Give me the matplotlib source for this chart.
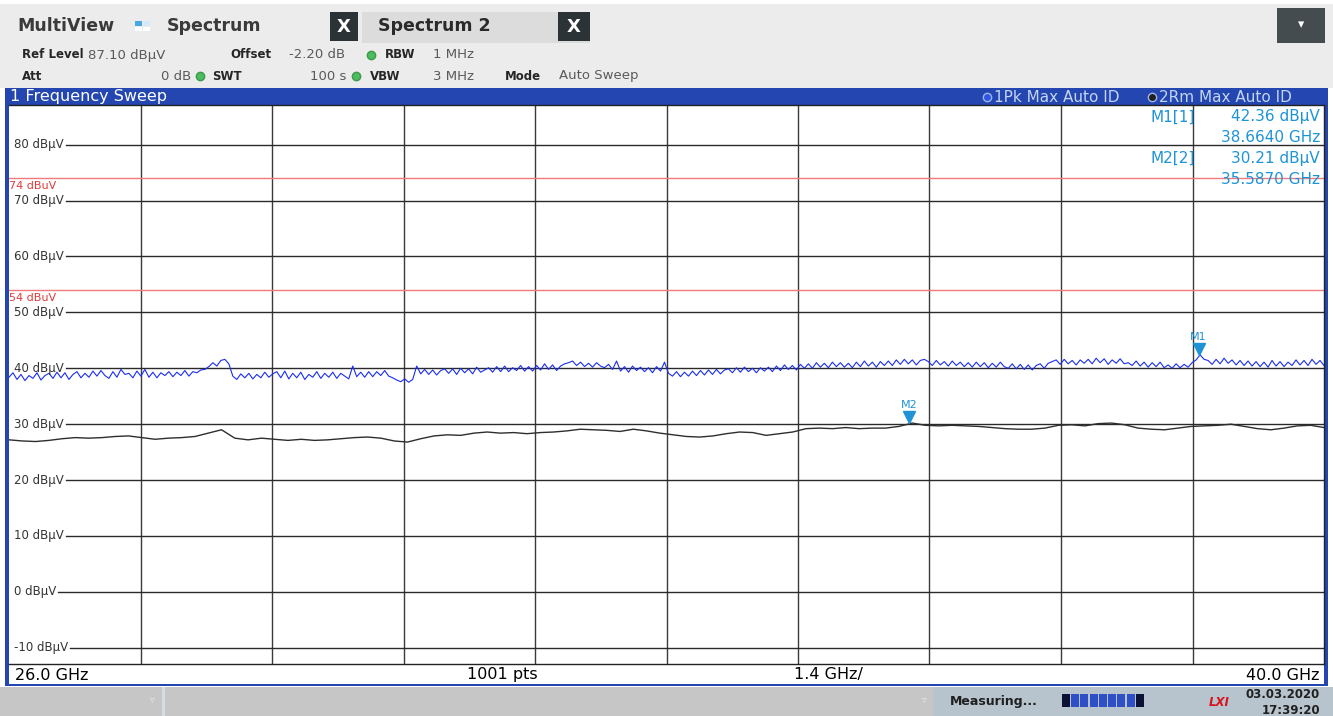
import numpy as np
import matplotlib.pyplot as plt
from matplotlib.patches import Rectangle
from matplotlib.lines import Line2D
from matplotlib.transforms import offset_copy

W, H = 1333, 716

# sweep setup
f_start = 26.0
f_stop = 40.0
f_step = 1.4
ref_level = 87.1
bottom_level = -12.9
y_ticks = [80, 70, 60, 50, 40, 30, 20, 10, 0, -10]
limit_lines = [74, 54]

# trace 1: Pk Max (blue)
trace1 = [
    38.4, 39.2, 38.0, 38.9, 37.8, 38.7, 38.2, 39.2, 37.9, 38.7,
    39.1, 38.2, 39.3, 38.3, 39.2, 38.0, 38.9, 39.4, 38.3, 39.1,
    38.4, 39.5, 38.6, 39.6, 38.7, 38.2, 39.4, 38.4, 39.8, 38.9,
    39.1, 38.3, 39.5, 38.6, 39.8, 38.4, 39.3, 38.3, 39.2, 38.7,
    39.4, 38.5, 39.3, 38.7, 39.6, 38.6, 39.4, 39.2, 39.7, 39.8,
    40.3, 41.0, 40.4, 41.4, 41.6, 40.8, 38.6, 38.0, 39.0, 38.3,
    39.1, 38.1, 38.9, 38.3, 39.3, 38.4, 39.0, 39.4, 38.3, 39.5,
    38.1, 39.1, 38.3, 39.3, 38.0, 38.9, 38.4, 39.4, 38.2, 39.1,
    38.4, 39.3, 38.2, 39.1, 38.6, 38.1, 40.4, 38.5, 39.3, 38.4,
    39.4, 38.5, 39.4, 38.7, 39.6, 38.6, 38.3, 37.9, 37.6, 38.1,
    37.5, 38.0, 40.4, 39.0, 39.8, 38.9, 39.7, 38.8, 39.6, 39.9,
    39.1, 39.9, 38.9, 40.0, 39.2, 39.9, 39.0, 40.2, 39.3, 39.7,
    40.1, 39.3, 40.3, 39.4, 40.4, 39.4, 40.1, 39.6, 40.5, 39.5,
    40.3, 39.5, 40.5, 39.7, 40.8, 39.8, 40.6, 39.6, 40.4, 40.8,
    41.0, 41.3, 40.5, 41.1, 40.3, 40.9, 40.2, 41.0, 40.4, 40.1,
    40.7, 39.8, 41.3, 39.5, 40.3, 39.3, 40.4, 39.6, 40.2, 39.4,
    40.1, 39.2, 40.3, 39.5, 41.1, 39.1, 38.6, 39.4, 38.5, 39.3,
    38.6, 39.5, 38.7, 39.6, 38.8, 39.7, 38.9, 39.8, 39.0, 39.7,
    39.9, 39.2, 40.1, 39.3, 40.2, 39.4, 40.0, 39.2, 40.1, 39.5,
    40.2, 39.4, 40.4, 39.6, 40.6, 39.8, 40.5, 39.7, 40.7, 40.0,
    40.8, 40.0, 41.0, 40.2, 40.9, 40.1, 41.1, 40.3, 41.0, 40.2,
    40.9, 40.1, 41.1, 40.3, 41.3, 40.4, 41.1, 40.2, 41.2, 40.5,
    41.3, 40.5, 41.5, 40.7, 41.6, 40.8, 41.5, 40.6, 41.4, 41.6,
    41.2, 40.5, 41.4, 40.6, 41.2, 40.4, 41.3, 40.5, 41.1, 40.3,
    41.0, 40.2, 41.1, 40.3, 41.0, 40.1, 40.9, 40.2, 41.1, 40.3,
    40.0, 40.8, 39.9, 40.7, 39.8, 40.6, 39.7, 40.5, 40.8, 40.0,
    40.9, 41.2, 41.5, 40.7, 41.6, 40.8, 41.4, 40.6, 41.5, 40.9,
    41.6, 40.8, 41.8, 41.0, 41.7, 40.7, 41.5, 40.9, 41.7, 40.8,
    41.0, 40.5, 41.3, 40.4, 41.1, 40.2, 41.0, 40.3, 41.1, 40.1,
    40.6, 40.0, 40.8, 40.1, 40.7, 40.2, 41.0, 41.5, 42.4, 41.6,
    41.4, 40.7, 41.6, 40.8, 41.8, 40.9, 41.5, 40.6, 41.4, 40.5,
    41.3, 40.4, 41.2, 40.3, 41.1, 40.2, 41.4, 40.4, 41.2, 40.3,
    41.1, 40.5, 41.5, 40.6, 41.4, 40.5, 41.6, 40.7, 41.4, 40.5,
]

# trace 2: Rm Max (black)
trace2 = [
    27.2, 27.0, 26.9, 27.1, 27.4, 27.6, 27.5, 27.6, 27.8, 27.9,
    27.6, 27.3, 27.5, 27.6, 27.8, 28.4, 29.0, 27.5, 27.2, 27.5,
    27.3, 27.1, 27.3, 27.1, 27.2, 27.4, 27.6, 27.7, 27.5, 27.0,
    26.8, 27.4, 27.9, 28.1, 28.0, 28.4, 28.6, 28.4, 28.5, 28.3,
    28.5, 28.6, 28.8, 29.1, 29.0, 28.9, 28.7, 29.1, 28.8, 28.4,
    28.1, 27.8, 27.7, 27.9, 28.3, 28.6, 28.5, 28.0, 28.3, 28.6,
    29.2, 29.3, 29.2, 29.4, 29.2, 29.3, 29.3, 29.6, 30.2, 29.8,
    29.7, 29.8, 29.7, 29.6, 29.4, 29.2, 29.1, 29.1, 29.3, 29.8,
    29.9, 29.7, 30.1, 30.2, 29.9, 29.3, 29.1, 29.0, 29.3, 29.6,
    29.7, 29.8, 30.0, 29.6, 29.2, 29.0, 29.3, 29.7, 29.8, 29.4,
]

m1_freq, m1_level = 38.664, 42.36
m2_freq, m2_level = 35.587, 30.21

marker_blue = '#1e93d6'

fig = plt.figure(figsize=(W / 100, H / 100), dpi=100)
fig.patch.set_facecolor('white')


def rect(x0, y0, x1, y1, color, z=-5):
    fig.add_artist(Rectangle((x0 / W, 1 - y1 / H), (x1 - x0) / W, (y1 - y0) / H,
                             transform=fig.transFigure, facecolor=color,
                             edgecolor='none', zorder=z))


def txt(x, y, s, **kw):
    kw.setdefault('va', 'center')
    fig.text(x / W, 1 - y / H, s, **kw)


def dot(x, y, fc, ec, ms=7):
    fig.add_artist(Line2D([x / W], [1 - y / H], marker='o', ms=ms, mfc=fc, mec=ec,
                          mew=1, transform=fig.transFigure, zorder=5))


# header area
rect(0, 4, W, 88, '#ececec')
txt(17, 26, 'MultiView', fontsize=12.5, weight='bold', color='#3a3a3a')
rect(135, 21, 142, 26, '#4aa8e0')
rect(143, 21, 150, 26, '#d6e9f7')
rect(135, 27, 142, 31, 'white')
rect(143, 27, 150, 31, 'white')
txt(167, 26, 'Spectrum', fontsize=12.5, weight='bold', color='#3a3a3a')
rect(362, 12, 590, 43, '#dcdcdc')
rect(330, 12, 358, 41, '#2b3337')
txt(344, 26.5, 'X', fontsize=13, weight='bold', color='white', ha='center')
txt(378, 26, 'Spectrum 2', fontsize=12.5, weight='bold', color='#2a2a2a')
rect(558, 12, 590, 41, '#2b3337')
txt(574, 26.5, 'X', fontsize=13, weight='bold', color='white', ha='center')
rect(1277, 8, 1325, 43, '#454c50')
txt(1301, 25, '▾', fontsize=9, color='white', ha='center')

lab = dict(fontsize=8.5, weight='bold', color='#262626')
val = dict(fontsize=9.5, color='#5a5a5a')
txt(22, 55, 'Ref Level', **lab)
txt(88, 55, '87.10 dBµV', **val)
txt(230, 55, 'Offset', **lab)
txt(289, 55, '-2.20 dB', **val)
dot(371, 55, '#4dbb5f', '#3c9a4c', ms=6)
txt(385, 55, 'RBW', **lab)
txt(433, 55, '1 MHz', **val)
txt(22, 76, 'Att', **lab)
txt(191, 76, '0 dB', ha='right', **val)
dot(200, 76, '#4dbb5f', '#3c9a4c', ms=6)
txt(212, 76, 'SWT', **lab)
txt(346, 76, '100 s', ha='right', **val)
dot(356, 76, '#4dbb5f', '#3c9a4c', ms=6)
txt(370, 76, 'VBW', **lab)
txt(433, 76, '3 MHz', **val)
txt(505, 76, 'Mode', **lab)
txt(559, 76, 'Auto Sweep', **val)

# blue window frame and title bar
rect(5, 88, 1328, 686, '#2346b0')
rect(9, 105, 1324, 684, 'white', z=-4)
txt(10, 97, '1 Frequency Sweep', fontsize=11.5, color='white')
dot(987, 97, '#2f54e8', '#9fb4e8', ms=6)
txt(994, 97, '1Pk Max Auto ID', fontsize=11, color='#c4d5f2')
dot(1152, 97, '#202020', '#9fb4e8', ms=6)
txt(1159, 97, '2Rm Max Auto ID', fontsize=11, color='#c4d5f2')

# status bar
rect(0, 687, W, H, '#c6c6c6')
rect(933, 687, W, H, '#b7c4cd')
rect(162, 687, 165, H, '#d3dee6')
txt(152, 700, '▿', fontsize=7, color='#e6e6e6', ha='center')
txt(924, 700, '▿', fontsize=7, color='#e6e6e6', ha='center')
txt(950, 701, 'Measuring...', fontsize=9, weight='bold', color='#202020')
seg_w = 83 / 9
for i in range(9):
    c = '#0b1236' if i in (0, 8) else '#2e4fc6'
    rect(1062 + i * seg_w, 694, 1062 + (i + 1) * seg_w - 1.2, 707, c, z=-3)
txt(1219, 702, 'LXI', fontsize=8.5, weight='bold', style='italic', color='#d8141c', ha='center')
txt(1320, 694, '03.03.2020', fontsize=8.5, weight='bold', color='#202020', ha='right')
txt(1320, 710, '17:39:20', fontsize=8.5, weight='bold', color='#202020', ha='right')

# bottom info strip
txt(15, 675, '26.0 GHz', fontsize=11.5, color='black')
txt(502, 675, '1001 pts', fontsize=11.5, color='black', ha='center')
txt(828, 675, f'{f_step} GHz/', fontsize=11.5, color='black', ha='center')
txt(1320, 675, '40.0 GHz', fontsize=11.5, color='black', ha='right')

# diagram
ax = fig.add_axes([9 / W, 1 - 664 / H, 1315 / W, 559 / H])
ax.set_xlim(f_start, f_stop)
ax.set_ylim(bottom_level, ref_level)
ax.set_xticks([])
ax.set_yticks([])
ax.spines['left'].set_visible(False)
for s in ['top', 'bottom', 'right']:
    ax.spines[s].set_color('#222222')
    ax.spines[s].set_linewidth(1)

for k in range(1, 10):
    ax.axvline(f_start + k * f_step, color='#3a3a3a', lw=1, zorder=1)

ytrans = ax.get_yaxis_transform()
labels = []
for v in y_ticks:
    t = ax.text(5 / 1315, v, f'{v} dBµV', transform=ytrans, fontsize=8.5,
                va='center', ha='left', color='#333333', zorder=4)
    labels.append((v, t))

for v in limit_lines:
    ax.axhline(v, color='#f27a7a', lw=1, zorder=2)
    ax.text(0.0, v - 0.5, f'{v} dBuV', transform=ytrans, fontsize=8,
            va='top', ha='left', color='#e23a3a', zorder=4)

f1 = np.linspace(f_start, f_stop, len(trace1))
f2 = np.linspace(f_start, f_stop, len(trace2))
ax.plot(f1, trace1, color='#1a2ef2', lw=0.8, zorder=3)
ax.plot(f2, trace2, color='#2e2e2e', lw=1.0, zorder=3)

# markers
tri = offset_copy(ax.transData, fig=fig, x=0, y=6, units='dots')
lbl = offset_copy(ax.transData, fig=fig, x=0, y=18, units='dots')
for name, f, lv in [('M1', m1_freq, m1_level), ('M2', m2_freq, m2_level)]:
    ax.plot([f], [lv], marker='v', ms=8, color=marker_blue, transform=tri, zorder=5)
    ax.text(f, lv, name, transform=lbl, fontsize=8, color=marker_blue,
            ha='center', va='center', zorder=5)

# marker table
mk = dict(fontsize=11, color=marker_blue)
txt(1150, 117, 'M1[1]', **mk)
txt(1320, 117, f'{m1_level:.2f} dBµV', ha='right', **mk)
txt(1320, 138, f'{m1_freq:.4f} GHz', ha='right', **mk)
txt(1150, 158, 'M2[2]', **mk)
txt(1320, 158, f'{m2_level:.2f} dBµV', ha='right', **mk)
txt(1320, 180, f'{m2_freq:.4f} GHz', ha='right', **mk)

# horizontal grid lines start right after their labels
fig.canvas.draw()
r = fig.canvas.get_renderer()
inv = ax.transData.inverted()
for v, t in labels:
    bb = t.get_window_extent(r)
    x0 = inv.transform((bb.x1 + 2, 0))[0]
    ax.plot([x0, f_stop], [v, v], color='#2a2a2a', lw=1, zorder=1)

fig.savefig('out.png', dpi=100)
